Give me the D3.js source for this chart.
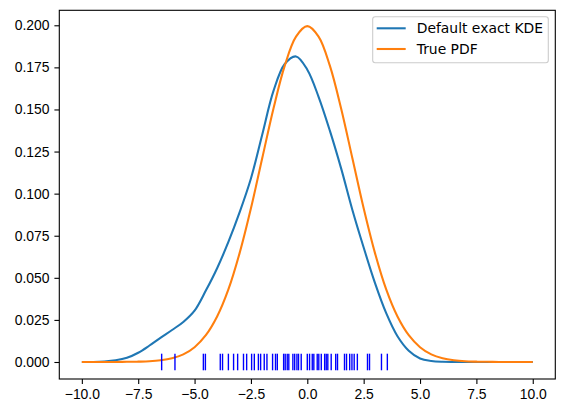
<!DOCTYPE html>
<html>
<head>
<meta charset="utf-8">
<script src="https://cdn.jsdelivr.net/npm/d3@7"></script>
<style>
  body { margin: 0; background: #fff; }
  svg { font-family: "DejaVu Sans", sans-serif; }
  .axis path, .axis line { stroke: #000; stroke-width: 1.1px; }
  .axis text { font-size: 13.9px; fill: #000; }
</style>
</head>
<body>
<script>
// values
var gridX = [-10, -9.5, -9, -8.5, -8, -7.5, -7, -6.5, -6, -5.5, -5, -4.5, -4, -3.5, -3, -2.5, -2, -1.5, -1, -0.5,
             0, 0.5, 1, 1.5, 2, 2.5, 3, 3.5, 4, 4.5, 5, 5.5, 6, 6.5, 7, 7.5, 8, 8.5, 9, 9.5, 10];

var kdeValues = [0, 0, 0.0003, 0.001, 0.0025, 0.0055, 0.0098, 0.0145, 0.019, 0.0238, 0.0305, 0.0424, 0.0557, 0.0713,
                 0.089, 0.109, 0.135, 0.161, 0.177, 0.1815,
                 0.1736, 0.1575, 0.1374, 0.115, 0.0903, 0.068, 0.047, 0.029, 0.0153, 0.0067, 0.0021, 0.0006, 0.0001,
                 0, 0, 0, 0, 0, 0, 0, 0];

var pdfValues = [0, 0, 0, 0, 0.0001, 0.0002, 0.0004, 0.001, 0.0022, 0.0045, 0.0088, 0.0159, 0.027, 0.0431,
                 0.0648, 0.0913, 0.121, 0.1506, 0.176, 0.1933,
                 0.1995, 0.1933, 0.176, 0.1506, 0.121, 0.0913, 0.0648, 0.0431, 0.027, 0.0159, 0.0088, 0.0045, 0.0022,
                 0.001, 0.0004, 0.0002, 0.0001, 0, 0, 0, 0];

var samples = [-6.46, -5.87, -4.61, -4.52, -3.86, -3.76, -3.50, -3.27, -3.09, -2.83, -2.69, -2.47, -2.35, -2.17,
               -2.07, -1.91, -1.79, -1.54, -1.41, -1.33, -1.05, -0.98, -0.89, -0.82, -0.64, -0.56, -0.46, -0.39,
               -0.27, 0.00, 0.10, 0.22, 0.29, 0.44, 0.51, 0.62, 0.77, 0.84, 0.91, 1.06, 1.26, 1.34, 1.65, 1.74,
               1.88, 1.98, 2.08, 2.22, 2.67, 2.76, 3.29, 3.55];

var xTicks = [-10, -7.5, -5, -2.5, 0, 2.5, 5, 7.5, 10];
var yTicks = [0, 0.025, 0.05, 0.075, 0.1, 0.125, 0.15, 0.175, 0.2];
var seriesNames = ["Default exact KDE", "True PDF"];
var seriesColors = ["#1f77b4", "#ff7f0e"];

var margin = { top: 10.3, right: 9.7, bottom: 34, left: 59.3 },
    width = 565 - margin.left - margin.right,
    height = 413 - margin.top - margin.bottom;

var x = d3.scaleLinear().domain([-11, 11]).range([0, width]);
var y = d3.scaleLinear().domain([-0.0101, 0.2089]).range([height, 0]);

var svg = d3.select("body").append("svg")
    .attr("width", 565)
    .attr("height", 413)
    .append("g")
    .attr("transform", "translate(" + margin.left + "," + margin.top + ")");

var line = d3.line()
    .x(function (d) { return x(d[0]); })
    .y(function (d) { return y(d[1]); })
    .curve(d3.curveCatmullRom.alpha(0.5));

[kdeValues, pdfValues].forEach(function (vals, i) {
    svg.append("path")
        .datum(d3.zip(gridX, vals))
        .attr("fill", "none")
        .attr("stroke", seriesColors[i])
        .attr("stroke-width", 2.08)
        .attr("d", line);
});

// rug of the samples
svg.selectAll(".rug")
    .data(samples)
    .enter().append("line")
    .attr("class", "rug")
    .attr("x1", function (d) { return x(d); })
    .attr("x2", function (d) { return x(d); })
    .attr("y1", y(0) - 8.3)
    .attr("y2", y(0) + 8.3)
    .attr("stroke", "#0000ff")
    .attr("stroke-width", 1.39);

// axes
svg.append("g")
    .attr("class", "axis")
    .attr("transform", "translate(0," + height + ")")
    .call(d3.axisBottom(x).tickValues(xTicks).tickFormat(d3.format(".1f")).tickSize(4.9).tickPadding(4.9));

svg.append("g")
    .attr("class", "axis")
    .call(d3.axisLeft(y).tickValues(yTicks).tickFormat(d3.format(".3f")).tickSize(4.9).tickPadding(4.9));

svg.selectAll(".axis .domain").remove();

svg.append("rect")
    .attr("width", width)
    .attr("height", height)
    .attr("fill", "none")
    .attr("stroke", "#000")
    .attr("stroke-width", 1.1);

// legend
var legend = svg.append("g")
    .attr("transform", "translate(" + (372.7 - margin.left) + "," + (16.7 - margin.top) + ")");

legend.append("rect")
    .attr("width", 175.6)
    .attr("height", 46)
    .attr("rx", 2.5)
    .attr("fill", "#fff")
    .attr("fill-opacity", 0.8)
    .attr("stroke", "#ccc")
    .attr("stroke-width", 1.1);

seriesNames.forEach(function (name, i) {
    var ly = 11.6 + i * 20.7;
    legend.append("line")
        .attr("x1", 4).attr("x2", 33)
        .attr("y1", ly).attr("y2", ly)
        .attr("stroke", seriesColors[i])
        .attr("stroke-width", 2.08);
    legend.append("text")
        .attr("x", 44)
        .attr("y", ly)
        .attr("dy", "0.36em")
        .style("font-size", "13.9px")
        .text(name);
});
</script>
</body>
</html>
